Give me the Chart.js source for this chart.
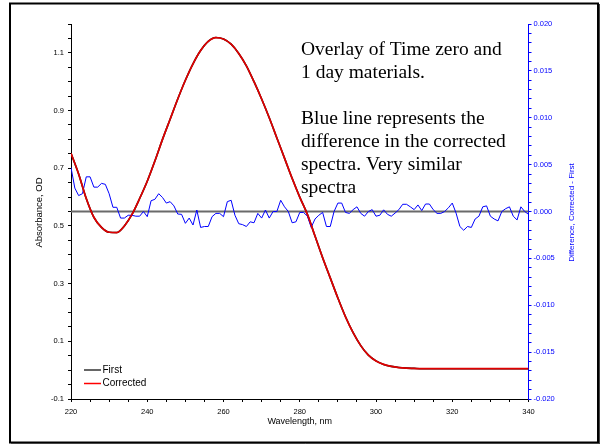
<!DOCTYPE html>
<html><head><meta charset="utf-8">
<script src="https://cdn.jsdelivr.net/npm/chart.js@4.4.1/dist/chart.umd.min.js"></script>
<style>html,body{margin:0;padding:0;background:#fff;overflow:hidden}#wrap{position:relative;width:603px;height:444px}</style>
</head><body><div id="wrap"><canvas id="c" width="603" height="444"></canvas></div>
<script>
// Spectrum (absorbance, left axis)
const specWavelengths = [220,222,224,226,228,230,232,234,236,238,240,242,244,246,248,250,252,254,256,258,260,262,264,266,268,270,272,274,276,278,280,282,284,286,288,290,292,294,296,298,300,302,304,306,308,310,312,314,316,318,320,322,324,326,328,330,332,334,336,338,340];
const correctedAbs = [0.752,0.68,0.595,0.53,0.495,0.478,0.477,0.500,0.540,0.595,0.655,0.725,0.800,0.870,0.940,1.005,1.062,1.108,1.140,1.153,1.148,1.130,1.098,1.055,1.000,0.940,0.875,0.805,0.735,0.665,0.600,0.540,0.465,0.390,0.320,0.250,0.185,0.130,0.085,0.052,0.032,0.020,0.013,0.009,0.007,0.006,0.005,0.005,0.005,0.005,0.005,0.005,0.005,0.005,0.005,0.005,0.005,0.005,0.005,0.005,0.005];
const firstAbs = [0.752,0.68,0.595,0.53,0.495,0.478,0.477,0.500,0.540,0.595,0.655,0.725,0.800,0.870,0.940,1.005,1.062,1.108,1.140,1.153,1.148,1.130,1.098,1.055,1.000,0.940,0.875,0.805,0.735,0.665,0.600,0.540,0.465,0.390,0.320,0.250,0.185,0.130,0.085,0.052,0.032,0.020,0.013,0.009,0.007,0.006,0.005,0.005,0.005,0.005,0.005,0.005,0.005,0.005,0.005,0.005,0.005,0.005,0.005,0.005,0.005];

// Difference (Corrected - First, right axis)
const diffWavelengths = [220,221,222,223,224,225,226,227,228,229,230,231,232,233,234,235,236,237,238,239,240,241,242,243,244,245,246,247,248,249,250,251,252,253,254,255,256,257,258,259,260,261,262,263,264,265,266,267,268,269,270,271,272,273,274,275,276,277,278,279,280,281,282,283,284,285,286,287,288,289,290,291,292,293,294,295,296,297,298,299,300,301,302,303,304,305,306,307,308,309,310,311,312,313,314,315,316,317,318,319,320,321,322,323,324,325,326,327,328,329,330,331,332,333,334,335,336,337,338,339,340];
const diffValues = [
 0.0047,0.0025,0.0017,0.0019,0.0037,0.0037,0.0026,0.0026,0.0030,0.0029,
 0.0019,0.00045,0.00045,-0.0007,-0.0007,-0.0004,-0.0004,-0.0005,-0.0005,0.0000,
 -0.00055,0.00115,0.0013,0.0019,0.0015,0.0009,0.00105,0.0006,-0.00027,-0.0003,
 -0.00126,-0.0007,-0.00144,0.00016,-0.0017,-0.0016,-0.0016,-0.00055,-0.0002,-0.0002,
 -0.00055,0.00105,0.0012,-0.0004,-0.0013,-0.0014,-0.0016,-0.0011,-0.0012,-0.0002,
 -0.0007,0.00016,-0.0007,0.0000,0.0000,0.0012,0.0005,0.0000,-0.0012,-0.0011,
 -0.0001,-0.0001,-0.0005,-0.0017,-0.0008,-0.0004,-0.0001,-0.0016,-0.0016,0.0000,
 0.0009,0.0009,-0.0001,-0.0002,0.0002,0.0005,-0.0002,-0.0005,0.0000,0.0002,
 -0.0005,-0.0004,0.00018,-0.0003,-0.0005,-0.00017,0.0002,0.00077,0.00077,0.0005,
 0.0002,0.0007,0.0001,0.0008,0.0008,0.0002,-0.0002,-0.0002,0.0000,0.0004,
 0.0009,-0.00017,-0.0016,-0.002,-0.0016,-0.0017,-0.0008,-0.0005,0.0005,0.0006,
 -0.0005,-0.0008,-0.001,0.0000,0.0003,0.0005,-0.0005,-0.0009,0.0005,0.0000,
 -0.0003];
const zeroLevel = 0;

const xMin = 220, xMax = 340;
const legendLabels = ['First', 'Corrected'];
const noteLines = ['Overlay of Time zero and', '1 day materials.', '', 'Blue line represents the', 'difference in the corrected', 'spectra. Very similar', 'spectra'];
const xTitle = 'Wavelength, nm';
const yTitle = 'Absorbance, OD';
const y2Title = 'Difference, Corrected - First';

const SANS = "'Liberation Sans', Arial, sans-serif";
const SERIF = "'Liberation Serif', 'Times New Roman', serif";
const tickFont = {family: SANS, size: 7.5};

const decorPlugin = {
  id: 'decor',
  beforeDraw(chart) {
    const ctx = chart.ctx;
    ctx.save();
    ctx.fillStyle = '#fff';
    ctx.fillRect(0, 0, chart.width, chart.height);
    ctx.restore();
  },
  afterDraw(chart) {
    const ctx = chart.ctx;
    const a = chart.chartArea;
    ctx.save();
    // frame
    ctx.strokeStyle = '#000';
    ctx.lineWidth = 2;
    ctx.strokeRect(10, 3.5, 588, 439);
    ctx.lineWidth = 1;
    ctx.strokeStyle = '#444';
    ctx.beginPath();
    ctx.moveTo(599.5, 4); ctx.lineTo(599.5, 444);
    ctx.moveTo(11, 443.5); ctx.lineTo(600, 443.5);
    ctx.stroke();

    // axis titles
    ctx.fillStyle = '#000';
    ctx.font = '9px ' + SANS;
    ctx.textAlign = 'center';
    ctx.textBaseline = 'middle';
    ctx.fillText(xTitle, (a.left + a.right) / 2, 421.5);
    ctx.save();
    ctx.translate(39.5, (a.top + a.bottom) / 2 + 1);
    ctx.rotate(-Math.PI / 2);
    ctx.font = '9.5px ' + SANS;
    ctx.fillText(yTitle, 0, 0);
    ctx.restore();
    ctx.save();
    ctx.translate(572, (a.top + a.bottom) / 2 + 1);
    ctx.rotate(-Math.PI / 2);
    ctx.fillStyle = '#0000ff';
    ctx.font = '8px ' + SANS;
    ctx.fillText(y2Title, 0, 0);
    ctx.restore();

    // legend (inside plot, bottom-left)
    ctx.font = '10px ' + SANS;
    ctx.textAlign = 'left';
    ctx.textBaseline = 'middle';
    legendLabels.forEach((lab, i) => {
      const y = a.bottom - 29 + i * 13.5;
      ctx.strokeStyle = lab === 'First' ? '#333' : '#ff0000';
      ctx.lineWidth = 1.5;
      ctx.beginPath();
      ctx.moveTo(a.left + 13, y);
      ctx.lineTo(a.left + 30, y);
      ctx.stroke();
      ctx.fillStyle = '#000';
      ctx.fillText(lab, a.left + 31.5, y);
    });

    // annotation text
    ctx.font = '19.5px ' + SERIF;
    ctx.textBaseline = 'alphabetic';
    ctx.fillStyle = '#000';
    noteLines.forEach((t, i) => {
      if (t) ctx.fillText(t, 301, 55 + i * 23);
    });
    ctx.restore();
  }
};

const ctx = document.getElementById('c').getContext('2d');
new Chart(ctx, {
  type: 'line',
  data: {
    datasets: [
      {
        label: 'First',
        data: specWavelengths.map((w, i) => ({x: w, y: firstAbs[i]})),
        yAxisID: 'y',
        borderColor: '#000000',
        borderWidth: 1.6,
        pointRadius: 0,
        cubicInterpolationMode: 'monotone',
        order: 2
      },
      {
        label: 'Corrected',
        data: specWavelengths.map((w, i) => ({x: w, y: correctedAbs[i]})),
        yAxisID: 'y',
        borderColor: '#e00000',
        borderWidth: 1.7,
        pointRadius: 0,
        cubicInterpolationMode: 'monotone',
        order: 0
      },
      {
        label: 'Difference',
        data: diffWavelengths.map((w, i) => ({x: w, y: diffValues[i]})),
        yAxisID: 'y2',
        borderColor: '#0000ff',
        borderWidth: 1,
        pointRadius: 0,
        tension: 0,
        order: 1
      },
      {
        label: 'Zero',
        data: [{x: xMin, y: zeroLevel}, {x: xMax, y: zeroLevel}],
        yAxisID: 'y2',
        borderColor: '#6a6a6a',
        borderWidth: 2,
        pointRadius: 0,
        tension: 0,
        order: 3
      }
    ]
  },
  options: {
    responsive: false,
    animation: false,
    events: [],
    layout: {padding: {left: 11, right: 24.5, top: 24, bottom: 15}},
    plugins: {legend: {display: false}, tooltip: {enabled: false}, title: {display: false}},
    scales: {
      x: {
        type: 'linear', position: 'bottom', min: xMin, max: xMax,
        afterFit: s => { s.height = 30; },
        ticks: {
          stepSize: 5, autoSkip: false, maxRotation: 0, minRotation: 0,
          font: tickFont, color: '#000', padding: 5,
          callback: v => (Math.round(v) % 20 === 0 ? String(Math.round(v)) : '')
        },
        grid: {display: true, drawOnChartArea: false, drawTicks: true, tickLength: 3, color: '#000', lineWidth: 1},
        border: {display: true, color: '#000', width: 1}
      },
      y: {
        type: 'linear', position: 'left', min: -0.1, max: 1.2,
        afterFit: s => { s.width = 60; },
        ticks: {
          stepSize: 0.05, autoSkip: false, font: tickFont, color: '#000', padding: 4,
          callback: v => { const n = Math.round(v * 20); return (((n % 4) + 4) % 4 === 2) ? v.toFixed(1) : ''; }
        },
        grid: {display: true, drawOnChartArea: false, drawTicks: true, tickLength: 3, color: '#000', lineWidth: 1},
        border: {display: true, color: '#000', width: 1}
      },
      y2: {
        type: 'linear', position: 'right', min: -0.02, max: 0.02,
        afterFit: s => { s.width = 50; },
        ticks: {
          stepSize: 0.001, autoSkip: false, font: tickFont, color: '#0000ff', padding: 2,
          callback: v => { const n = Math.round(v * 1000); return n % 5 === 0 ? (n / 1000).toFixed(3) : ''; }
        },
        grid: {display: true, drawOnChartArea: false, drawTicks: true, tickLength: 3, color: '#0000ff', lineWidth: 1},
        border: {display: true, color: '#0000ff', width: 1}
      }
    }
  },
  plugins: [decorPlugin]
});
</script>
</body></html>
